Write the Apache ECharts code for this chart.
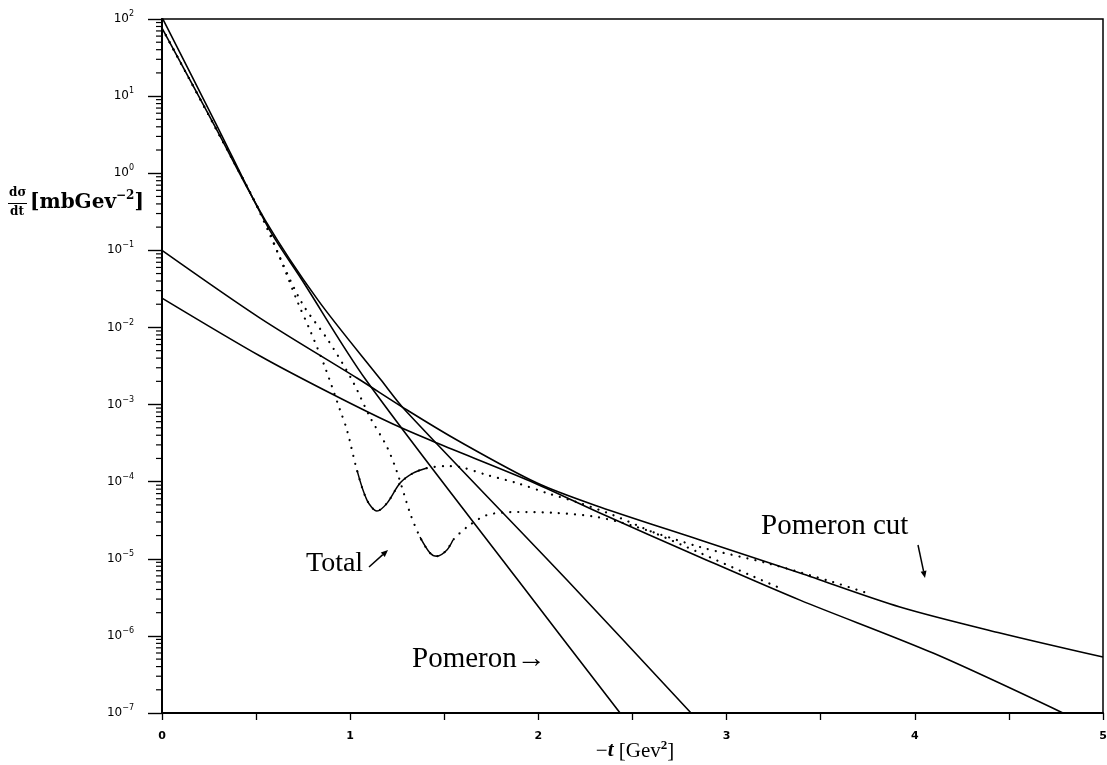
<!DOCTYPE html>
<html>
<head>
<meta charset="utf-8">
<script src="https://cdn.jsdelivr.net/npm/echarts@6/dist/echarts.min.js"></script>
<style>
  html, body { margin: 0; padding: 0; background: #fff; }
  #chart { width: 1107px; height: 765px; }
</style>
</head>
<body>
<div id="chart"></div>
<script>
// Differential cross section dσ/dt [mb GeV^-2] against -t [GeV^2].
// Each curve is a list of [-t, dσ/dt] pairs.

// Pomeron exchange, two parameter sets (steep curves)
const pomeronA = [
  [0.000, 105], [0.282, 4.61], [0.563, 0.200], [0.744, 0.0412],
  [1.084, 2.08e-3], [1.886, 5.5e-6], [2.434, 1.0e-7]
];
const pomeronB = [
  [0.000, 76.4], [0.282, 4.01], [0.548, 0.247], [0.829, 0.0226],
  [1.164, 2.08e-3], [1.291, 8.5e-4], [2.152, 5.3e-6], [2.811, 1.0e-7]
];

// Pomeron cut, two parameter sets (shallow curves)
const cutA = [
  [0.000, 0.100], [0.521, 0.01324], [1.036, 2.21e-3], [1.302, 8.5e-4],
  [1.567, 3.47e-4], [1.993, 9.6e-5], [2.327, 4.69e-5], [2.859, 1.75e-5],
  [3.390, 6.53e-6], [3.921, 2.37e-6], [4.453, 1.09e-6], [5.000, 5.31e-7]
];
const cutB = [
  [0.000, 0.02404], [0.521, 4.26e-3], [0.893, 1.41e-3], [1.227, 5.58e-4],
  [1.461, 3.17e-4], [1.955, 1.02e-4], [2.327, 3.92e-5], [2.859, 1.05e-5],
  [3.390, 2.91e-6], [4.097, 5.98e-7], [4.787, 1.0e-7]
];

// Total (pomeron + cut), two parameter sets, each with a diffraction dip
const totalA = [
  [0.000, 76.4], [0.319, 2.70], [0.478, 0.506], [0.574, 0.158],
  [0.638, 0.0684], [0.723, 0.0207], [0.786, 9.25e-3], [0.866, 3.06e-3],
  [0.946, 8.49e-4], [0.983, 4.67e-4], [1.036, 1.41e-4], [1.089, 5.77e-5],
  [1.142, 4.16e-5], [1.196, 5.27e-5], [1.265, 9.59e-5], [1.334, 1.29e-4],
  [1.408, 1.50e-4], [1.504, 1.59e-4], [1.583, 1.55e-4], [1.727, 1.22e-4],
  [1.886, 9.59e-5], [2.046, 7.11e-5], [2.221, 5.27e-5], [2.396, 3.69e-5],
  [2.593, 2.29e-5], [2.859, 1.19e-5], [3.124, 6.15e-6], [3.284, 4.17e-6]
];
const totalB = [
  [0.000, 76.4], [0.319, 2.70], [0.478, 0.506], [0.563, 0.195],
  [0.616, 0.0923], [0.744, 0.0207], [0.882, 6.87e-3], [1.010, 2.08e-3],
  [1.105, 6.89e-4], [1.196, 2.81e-4], [1.249, 1.33e-4], [1.318, 3.92e-5],
  [1.371, 1.91e-5], [1.424, 1.19e-5], [1.461, 1.08e-5], [1.514, 1.30e-5],
  [1.546, 1.75e-5], [1.621, 2.58e-5], [1.727, 3.69e-5], [1.886, 4.04e-5],
  [2.099, 3.92e-5], [2.311, 3.48e-5], [2.487, 2.74e-5], [2.859, 1.42e-5],
  [3.215, 8.79e-6], [3.565, 4.99e-6], [3.746, 3.59e-6]
];

// -t ranges around each dip where the total curve is drawn as a full line
const dipRangeA = [1.03, 1.42];
const dipRangeB = [1.36, 1.56];

// axis settings
const xTicks = { min: 0, max: 5, step: 0.5 };
const yDecades = { min: -7, max: 2 };
const minorMantissas = [2, 3, 4, 5, 6, 7, 8, 9];

const minorTickValues = [];
for (let d = yDecades.min; d < yDecades.max; d++) {
  minorMantissas.forEach(m => minorTickValues.push([0, m * Math.pow(10, d)]));
}

const inRange = (arr, r) => arr.filter(p => p[0] >= r[0] - 1e-9 && p[0] <= r[1] + 1e-9);

const SERIF = '"Liberation Serif", "DejaVu Serif", serif';
const WIDE_SERIF = '"DejaVu Serif", "Liberation Serif", serif';
const SANS = '"DejaVu Sans", sans-serif';
const solid = { color: '#000', width: 1.6 };
const dotted = { color: '#000', width: 2.2, type: [0.1, 8], cap: 'round' };

function lineSeries(name, data, style) {
  return {
    name, type: 'line', data, showSymbol: false, symbol: 'none',
    smooth: 0.3, lineStyle: style, silent: true, z: 3
  };
}

const chart = echarts.init(document.getElementById('chart'), null, { renderer: 'canvas' });

function arrow(x1, y1, x2, y2) {
  const ang = Math.atan2(y2 - y1, x2 - x1);
  const L = 7, W = 3;
  const bx = x2 - L * Math.cos(ang), by = y2 - L * Math.sin(ang);
  const nx = -Math.sin(ang) * W, ny = Math.cos(ang) * W;
  return [
    { type: 'line', shape: { x1, y1, x2: bx, y2: by }, style: { stroke: '#000', lineWidth: 1.5 } },
    { type: 'polygon', shape: { points: [[x2, y2], [bx + nx, by + ny], [bx - nx, by - ny]] }, style: { fill: '#000' } }
  ];
}

chart.setOption({
  animation: false,
  backgroundColor: '#fff',
  grid: {
    left: 162, right: 4, top: 19, bottom: 52,
    containLabel: false, outerBoundsMode: 'none',
    show: true, borderColor: '#000', borderWidth: 1.5, backgroundColor: 'transparent'
  },
  xAxis: {
    type: 'value',
    min: xTicks.min, max: xTicks.max, interval: xTicks.step,
    splitLine: { show: false },
    axisLine: { onZero: false, lineStyle: { color: '#000', width: 2 } },
    axisTick: { inside: false, length: 7, lineStyle: { color: '#000', width: 1.3 } },
    axisLabel: {
      color: '#000', fontFamily: SANS, fontSize: 11, fontWeight: 'bold', margin: 18,
      formatter: v => (Math.abs(v - Math.round(v)) < 1e-9 ? String(Math.round(v)) : '')
    }
  },
  yAxis: {
    type: 'log', logBase: 10,
    min: Math.pow(10, yDecades.min), max: Math.pow(10, yDecades.max),
    interval: 1,
    splitLine: { show: false },
    minorTick: { show: false },
    axisLine: { lineStyle: { color: '#000', width: 2 } },
    axisTick: { inside: false, length: 14, lineStyle: { color: '#000', width: 1.4 } },
    axisLabel: {
      color: '#000', margin: 28,
      formatter: v => {
        const e = Math.round(Math.log10(v));
        return '{b|10}{e|' + (e < 0 ? '−' + (-e) : String(e)) + '}';
      },
      rich: {
        b: { fontFamily: SANS, fontSize: 12, lineHeight: 18, color: '#000' },
        e: { fontFamily: SANS, fontSize: 8, lineHeight: 9, verticalAlign: 'top', color: '#000' }
      }
    }
  },
  series: [
    lineSeries('Pomeron A', pomeronA, solid),
    lineSeries('Pomeron B', pomeronB, solid),
    lineSeries('Pomeron cut A', cutA, solid),
    lineSeries('Pomeron cut B', cutB, solid),
    lineSeries('Total A', totalA, dotted),
    lineSeries('Total B', totalB, dotted),
    lineSeries('Total A dip', inRange(totalA, dipRangeA), { color: '#000', width: 1.5 }),
    lineSeries('Total B dip', inRange(totalB, dipRangeB), { color: '#000', width: 1.5 }),
    {
      name: 'minor ticks', type: 'custom', silent: true, clip: false, z: 5,
      data: minorTickValues,
      encode: { x: 0, y: 1 },
      renderItem: (params, api) => {
        const p = api.coord([0, api.value(1)]);
        return {
          type: 'line',
          shape: { x1: p[0] - 6, y1: p[1], x2: p[0], y2: p[1] },
          style: { stroke: '#000', lineWidth: 1.2 }
        };
      }
    }
  ],
  graphic: [
    // y-axis title: dσ/dt [mbGev^-2]
    { type: 'text', left: 9, top: 187, style: { text: 'dσ', font: 'bold 12px ' + WIDE_SERIF, fill: '#000' } },
    { type: 'line', shape: { x1: 8, y1: 203.5, x2: 27, y2: 203.5 }, style: { stroke: '#000', lineWidth: 1 } },
    { type: 'text', left: 10, top: 206, style: { text: 'dt', font: 'bold 12px ' + WIDE_SERIF, fill: '#000' } },
    {
      type: 'text', left: 30, top: 190,
      style: {
        text: '[mbGev{s|−2}]', font: 'bold 20px ' + WIDE_SERIF, fill: '#000', lineHeight: 26,
        rich: { s: { fontFamily: WIDE_SERIF, fontSize: 12, fontWeight: 'bold', lineHeight: 12, verticalAlign: 'top' } }
      }
    },
    // x-axis title: -t [Gev^2]
    {
      type: 'text', x: 635, y: 751,
      style: {
        text: '−{i|t} [Gev{s|2}]', font: '21px ' + SERIF, fill: '#000', lineHeight: 24,
        align: 'center', verticalAlign: 'middle',
        rich: {
          i: { fontFamily: SERIF, fontSize: 21, fontStyle: 'italic', fontWeight: 'bold', lineHeight: 24 },
          s: { fontFamily: SERIF, fontSize: 13, fontWeight: 'bold', lineHeight: 12, verticalAlign: 'top' }
        }
      }
    },
    // curve annotations
    { type: 'text', x: 306, y: 564, style: { text: 'Total', font: '28px ' + SERIF, fill: '#000', verticalAlign: 'middle' } },
    ...arrow(369, 567, 388, 550),
    { type: 'text', x: 412, y: 659, style: { text: 'Pomeron→', font: '29px ' + SERIF, fill: '#000', verticalAlign: 'middle' } },
    { type: 'text', x: 761, y: 526, style: { text: 'Pomeron cut', font: '29px ' + SERIF, fill: '#000', verticalAlign: 'middle' } },
    ...arrow(918, 545, 925, 578)
  ]
});
</script>
</body>
</html>
